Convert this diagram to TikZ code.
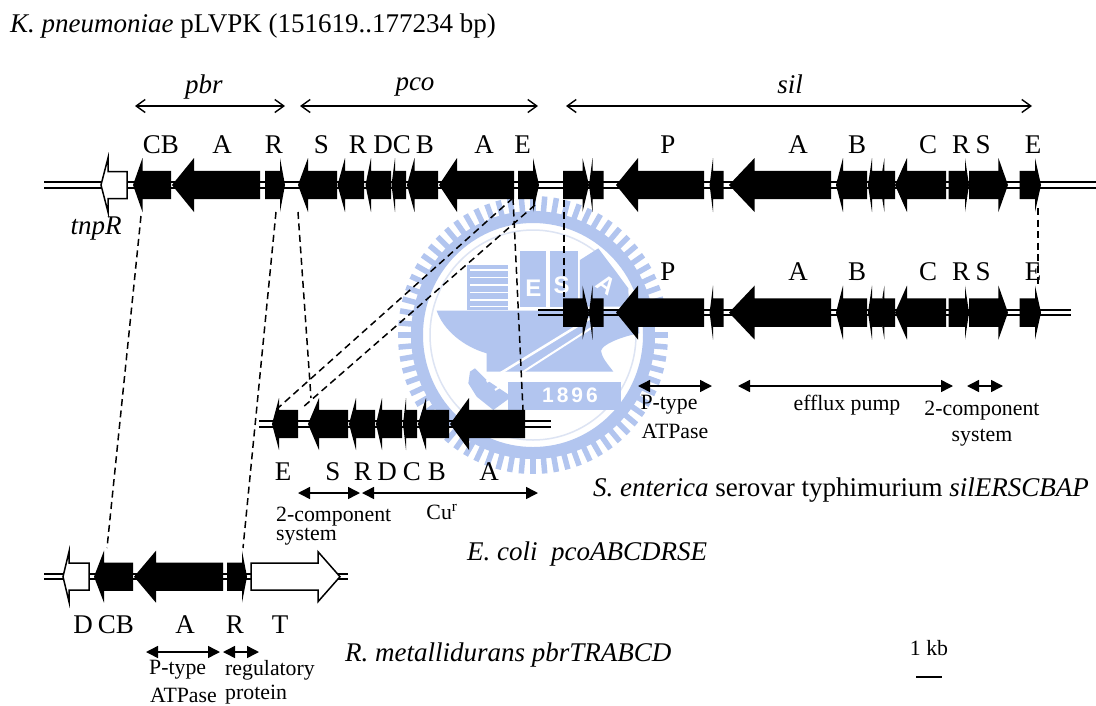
\documentclass[tikz,border=0pt]{standalone}
\usepackage{fontspec}
\setmainfont{Liberation Serif}
\newfontfamily\wmfont{Liberation Sans}
\usetikzlibrary{arrows.meta}
\definecolor{wm}{HTML}{B2C5EF}
\definecolor{wmline}{HTML}{DDE4F3}
\tikzset{
  lab/.style={font=\fontsize{27}{29}\selectfont,inner sep=0pt},
  titletext/.style={font=\fontsize{27}{29}\selectfont,inner sep=0pt,anchor=west},
  small/.style={font=\fontsize{21.8}{24}\selectfont,inner sep=0pt},
  openbar/.style={line width=1.4pt,{Straight Barb[length=9pt,width=13pt,line width=1.4pt]}-{Straight Barb[length=9pt,width=13pt,line width=1.4pt]}},
  solidbar/.style={line width=1.5pt,{Triangle[length=12pt,width=12pt]}-{Triangle[length=12pt,width=12pt]}},
  homology/.style={black,line width=1.5pt,dash pattern=on 7pt off 4.5pt},
  dna/.style={line width=1.9pt,black},
}
% y, tip, head base, tail end, head half height
\newcommand\gn[5]{\fill[black] (#2,#1) -- (#3,#1-#5) -- (#3,#1-14.2) -- (#4,#1-14.2) -- (#4,#1+14.2) -- (#3,#1+14.2) -- (#3,#1+#5) -- cycle;}
\newcommand\wgn[5]{\filldraw[fill=white,draw=black,line width=1.5pt,line join=miter] (#2,#1) -- (#3,#1-#5) -- (#3,#1-13.5) -- (#4,#1-13.5) -- (#4,#1+13.5) -- (#3,#1+13.5) -- (#3,#1+#5) -- cycle;}
\newcommand\silset[1]{%
 \gn{#1}{589}{582.5}{563}{27}\gn{#1}{589}{592.5}{603.7}{27}
 \gn{#1}{616}{638}{704}{27}\gn{#1}{709.6}{713}{723.7}{27}
 \gn{#1}{729}{754.6}{831}{27}\gn{#1}{836}{843}{867}{27}
 \gn{#1}{868}{872}{882}{27}\gn{#1}{880}{884.4}{895}{27}
 \gn{#1}{895}{907}{946}{27}\gn{#1}{969}{965}{948.6}{27}
 \gn{#1}{1008}{998.4}{969}{27}\gn{#1}{1041}{1035}{1019.5}{27}}
\newcommand\dbl[3]{\draw[dna] (#1,#3-2.6) -- (#2,#3-2.6) (#1,#3+2.6) -- (#2,#3+2.6);}
\begin{document}
\begin{tikzpicture}[x=1pt,y=-1pt]
\useasboundingbox (0,0) rectangle (1096,705);
\fill[white] (0,0) rectangle (1096,705);
% watermark
\begin{scope}
 \foreach \a in {0,5,...,355}{\draw[wm,line width=5.5pt] (533,335)++(\a:116 and 120) -- ++(\a:19);}
 \draw[wm,line width=12pt] (533,335) ellipse (116 and 118);
 \draw[wmline,line width=1.5pt] (533,335) ellipse (103 and 105);
\end{scope}
\begin{scope}[xshift=380pt,yshift=-190pt,x=0.3333pt,y=-0.3333pt]
 \fill[wm] (260,225) rectangle (385,360);
 \foreach \s in {240,262,285,308,330,350}{\draw[white,line width=1.3pt] (270,\s) -- (385,\s);}
 \fill[wm] (420,183) rectangle (497,350);
 \fill[wm] (510,183) rectangle (595,350);
 \fill[wm] (600,210) -- (655,175) -- (745,295) -- (745,350) -- (600,350) -- cycle;
 \node[white,font=\wmfont\bfseries\fontsize{24}{26}\selectfont] (wmE) at (460,295) {E};
 \node[white,font=\wmfont\bfseries\fontsize{24}{26}\selectfont] (wmS) at (545,285) {S};
 \node[white,font=\wmfont\bfseries\fontsize{24}{26}\selectfont,rotate=-35] (wmA) at (680,285) {A};
 \fill[wm] (170,362) -- (775,362) -- (778,430) .. controls (720,440) and (650,470) .. (665,490) .. controls (670,510) and (690,530) .. (700,545) -- (320,545) -- (320,490) .. controls (250,470) and (190,420) .. (170,362) -- cycle;
 \fill[wm] (270,545) -- (285,535) -- (320,570) -- (395,620) -- (340,660) -- (290,620) -- (265,580) -- cycle;
 \draw[white,line width=2.5pt] (630,385) -- (320,575);
 \draw[white,line width=2pt] (640,410) -- (345,600);
 \fill[wm] (385,575) rectangle (722,660);
 \node[white,font=\wmfont\bfseries\fontsize{21}{23}\selectfont] (wmY) at (570,617) {1\hspace{3pt}8\hspace{3pt}9\hspace{3pt}6};
\end{scope}
% homology lines
\coordinate (h1a) at (141,216); \coordinate (h1b) at (107,548);
\coordinate (h2a) at (276,212); \coordinate (h2b) at (243,548);
\coordinate (h3a) at (298,212); \coordinate (h3b) at (311,398);
\coordinate (h4a) at (513,198); \coordinate (h4b) at (278,408);
\coordinate (h5a) at (535,205); \coordinate (h5b) at (302,408);
\coordinate (h6a) at (513,198); \coordinate (h6b) at (523,410);
\coordinate (h7a) at (564,200); \coordinate (h7b) at (564,297);
\coordinate (h8a) at (1038,208); \coordinate (h8b) at (1038,288);
\foreach \i in {1,...,8}{\draw[homology] (h\i a) -- (h\i b);}
% DNA tracks
\dbl{44}{1096}{185}
\dbl{538}{1071}{312.6}
\dbl{259}{551}{424}
\dbl{44}{348}{576.7}
% pLVPK
\wgn{185}{101}{108}{127}{27}
\gn{185}{133}{142.5}{171}{27}
\gn{185}{172}{194}{260}{27}
\gn{185}{285}{280}{265}{27}
\gn{185}{298}{308}{337}{27}
\gn{185}{337.5}{345}{364}{27}
\gn{185}{365.5}{371}{391}{27}
\gn{185}{391.5}{395}{406}{27}
\gn{185}{407}{414.5}{438}{27}
\gn{185}{439}{457}{514}{27}
\gn{185}{539}{533}{518}{27}
\silset{185}
\silset{312.6}
% pco
\gn{424}{272}{279}{298}{26}
\gn{424}{308}{319}{348}{26}
\gn{424}{349}{356}{375}{26}
\gn{424}{376}{382}{402}{26}
\gn{424}{403}{406}{417}{26}
\gn{424}{418}{426}{449}{26}
\gn{424}{450}{469}{525}{26}
% pbr
\wgn{576.7}{63}{69}{89}{25}
\gn{576.7}{94}{104}{133}{26}
\gn{576.7}{134}{156}{223}{26}
\gn{576.7}{247}{242}{227}{26}
\wgn{576.7}{340}{318}{251}{25}
% texts
\node[titletext] (title) at (10,26) {\textit{K. pneumoniae} pLVPK (151619..177234 bp)};
\node[lab] (lpbr) at (204,87) {\textit{pbr}};
\node[lab] (lpco) at (415,87) {\textit{pco}};
\node[lab] (lsil) at (790,84) {\textit{sil}};
\coordinate (b1a) at (135,106); \coordinate (b1b) at (285,106);
\coordinate (b2a) at (300,106); \coordinate (b2b) at (538,106);
\coordinate (b3a) at (566,106); \coordinate (b3b) at (1032,106);
\draw[openbar] (b1a) -- (b1b);
\draw[openbar] (b2a) -- (b2b);
\draw[openbar] (b3a) -- (b3b);
\foreach \n/\t/\xx in {a/C/152,b/B/170,c/A/222,d/R/274,e/S/321.5,f/R/358,g/D/383,h/C/402,i/B/425,j/A/484,k/E/522.5,l/P/668,m/A/798,n/B/857,o/C/928,p/R/961,q/S/983,r/E/1033}
 {\node[lab] (top\n) at (\xx,145) {\t};}
\foreach \n/\t/\xx in {l/P/668,m/A/798,n/B/857,o/C/928,p/R/961,q/S/983,r/E/1033}
 {\node[lab] (sec\n) at (\xx,272) {\t};}
\node[lab] (tnp) at (96,229) {\textit{tnpR}};
% sil bars
\coordinate (s1a) at (638,386); \coordinate (s1b) at (712,386);
\coordinate (s2a) at (738,386); \coordinate (s2b) at (953,386);
\coordinate (s3a) at (967,386); \coordinate (s3b) at (1003,386);
\draw[solidbar] (s1a) -- (s1b);
\draw[solidbar] (s2a) -- (s2b);
\draw[solidbar] (s3a) -- (s3b);
\node[small] (n1) at (669,405) {P-type};
\node[small] (n2) at (675,431) {ATPase};
\node[small] (n3) at (847,405) {efflux pump};
\node[small] (n4) at (982,411) {2-component};
\node[small] (n5) at (982,438) {system};
\node[lab,anchor=west] (cap1) at (593,490) {\textit{S. enterica} serovar typhimurium \textit{silERSCBAP}};
% pco letters and bars
\foreach \n/\t/\xx in {a/E/283,b/S/333,c/R/363,d/D/387,e/C/412,f/B/437,g/A/489}
 {\node[lab] (pc\n) at (\xx,472) {\t};}
\coordinate (p1a) at (298,493); \coordinate (p1b) at (360,493);
\coordinate (p2a) at (362,493); \coordinate (p2b) at (538,493);
\draw[solidbar] (p1a) -- (p1b);
\draw[solidbar] (p2a) -- (p2b);
\node[inner sep=0pt,anchor=west,align=left,font=\fontsize{21.8}{18.5}\selectfont] (n6) at (276,526) {2-component\\system};
\node[small] (n8) at (442,512) {Cu\textsuperscript{r}};
\node[lab,anchor=west] (cap2) at (467,554) {\textit{E. coli\ \ pcoABCDRSE}};
% pbr letters and bars
\foreach \n/\t/\xx in {a/D/83,b/C/107,c/B/125,d/A/185,e/R/235,f/T/280}
 {\node[lab] (pb\n) at (\xx,625) {\t};}
\coordinate (r1a) at (146,652); \coordinate (r1b) at (220,652);
\coordinate (r2a) at (223,652); \coordinate (r2b) at (259,652);
\draw[solidbar] (r1a) -- (r1b);
\draw[solidbar] (r2a) -- (r2b);
\node[small,anchor=west] (n9) at (149,670) {P-type};
\node[small,anchor=west] (n10) at (150,695) {ATPase};
\node[small,anchor=west] (n11) at (225,670) {regulatory};
\node[small,anchor=west] (n12) at (225,695) {protein};
\node[lab,anchor=west] (cap3) at (345,655) {\textit{R. metallidurans pbrTRABCD}};
\node[small] (kb) at (929,648) {1 kb};
\coordinate (k1) at (916,677); \coordinate (k2) at (942,677);
\draw[black,line width=1.5pt] (k1) -- (k2);
\end{tikzpicture}
\end{document}
